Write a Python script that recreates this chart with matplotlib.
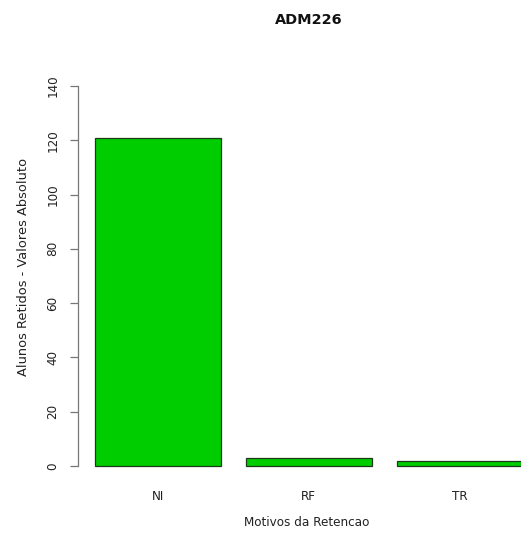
"""
Barplot de retencao por motivo (ADM226), no estilo do barplot base do R.
"""

import matplotlib
matplotlib.use("Agg")
import matplotlib.pyplot as plt

# dados
motivos = ["NI", "RF", "TR"]
alunos = [121, 3, 2]
yticks = [0, 20, 40, 60, 80, 100, 120, 140]

TITULO = "ADM226"
XLABEL = "Motivos da Retencao"
YLABEL = "Alunos Retidos - Valores Absoluto"

plt.rcParams["font.family"] = ["DejaVu Sans"]

W, H, DPI = 521, 535, 100
fig = plt.figure(figsize=(W / DPI, H / DPI), dpi=DPI)

# regiao do plot em pixels (a direita passa da borda, como no original)
px_left, px_right, px_top, px_bottom = 77.5, 540, 70.8, 481.2
ax = fig.add_axes([px_left / W, 1 - px_bottom / H,
                   (px_right - px_left) / W, (px_bottom - px_top) / H])

# posicoes no estilo R: width=1, space=0.2
centros = [0.7 + 1.2 * i for i in range(len(motivos))]
ax.bar(centros, alunos, width=1.0, color="#00CD00", edgecolor="#1a3a1a",
       linewidth=0.9)

ax.set_xlim(0.064, 3.736)
ax.set_ylim(-5.6, 145.6)

for s in ["top", "right", "bottom"]:
    ax.spines[s].set_visible(False)
ax.spines["left"].set_bounds(0, 140)
ax.spines["left"].set_color("#777777")
ax.spines["left"].set_linewidth(0.9)

fs = 8.64
ax.set_yticks(yticks)
ax.set_yticklabels([str(v) for v in yticks], rotation=90, va="center",
                   fontsize=fs, color="#222222")
ax.tick_params(axis="y", length=6, width=0.9, color="#777777", pad=7)

ax.set_xticks(centros)
ax.set_xticklabels(motivos, fontsize=fs, color="#222222")
ax.tick_params(axis="x", length=0, pad=6)

ax.set_xlabel(XLABEL, fontsize=fs, color="#222222", va="center")
ax.xaxis.set_label_coords((307 - px_left) / (px_right - px_left),
                          (px_bottom - 523) / (px_bottom - px_top))
ax.set_ylabel(YLABEL, fontsize=9.4, color="#222222", va="center")
ax.yaxis.set_label_coords((24 - px_left) / (px_right - px_left),
                          (px_bottom - 266.5) / (px_bottom - px_top))

fig.text(309 / W, 1 - 20 / H, TITULO, ha="center", va="center",
         fontsize=10.4, fontweight="bold", color="#111111")

fig.savefig("out.png", dpi=DPI)
